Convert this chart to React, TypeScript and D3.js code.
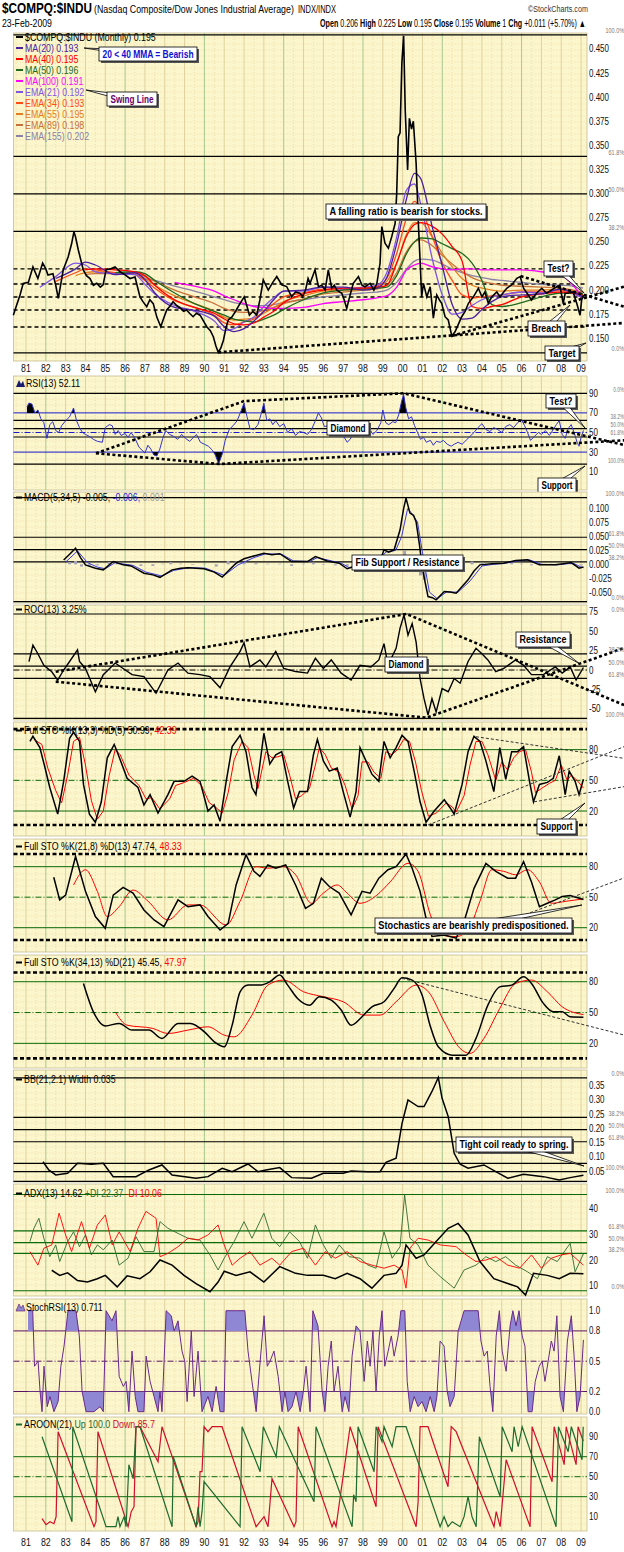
import React from "react";
import * as d3 from "d3";

type Pt = [number, number];

const FONT = "'Liberation Sans',Arial,sans-serif";
const SX = 0.84;
const W = 624, H = 1552;
const X0 = 13.5, X1 = 587;

// ---------- time axis ----------
const yearTicks = d3.range(1981, 2010);
const yearLabels = yearTicks.map((y) => String(y % 100).padStart(2, "0"));
const x = d3.scaleLinear().domain([1980.37, 2009.3]).range([X0, X1]);

// ---------- main panel: $COMPQ:$INDU ratio (monthly) ----------
const price: Pt[] = [
  [1980.36,0.174],[1980.53,0.1845],[1980.7,0.195],[1980.86,0.207],[1981.12,0.208],[1981.35,0.224],[1981.6,0.212],[1981.84,0.228],[1982.0,0.222],[1982.11,0.2157],[1982.36,0.217],[1982.5,0.205],[1982.63,0.1915],[1982.88,0.221],[1983.13,0.2346],[1983.3,0.248],[1983.42,0.2606],[1983.5,0.255],[1983.64,0.2416],[1983.89,0.221],[1984.05,0.215],[1984.23,0.212],[1984.4,0.205],[1984.57,0.207],[1984.75,0.203],[1984.89,0.2055],[1985.04,0.221],[1985.25,0.222],[1985.49,0.224],[1985.75,0.219],[1986.0,0.2157],[1986.25,0.212],[1986.5,0.2135],[1986.75,0.193],[1986.9,0.188],[1987.09,0.1828],[1987.25,0.19],[1987.42,0.186],[1987.6,0.172],[1987.8,0.162],[1987.95,0.171],[1988.1,0.1794],[1988.25,0.183],[1988.42,0.188],[1988.6,0.184],[1988.77,0.1817],[1988.95,0.178],[1989.1,0.1794],[1989.25,0.176],[1989.43,0.1724],[1989.6,0.176],[1989.78,0.174],[1989.95,0.168],[1990.12,0.162],[1990.3,0.158],[1990.45,0.1517],[1990.58,0.142],[1990.7,0.1355],[1990.83,0.14],[1990.96,0.148],[1991.08,0.16],[1991.2,0.169],[1991.38,0.172],[1991.55,0.1773],[1991.8,0.1863],[1992.01,0.193],[1992.15,0.183],[1992.27,0.174],[1992.45,0.178],[1992.64,0.174],[1992.8,0.19],[1992.97,0.2105],[1993.1,0.205],[1993.22,0.2],[1993.45,0.208],[1993.65,0.214],[1993.9,0.2055],[1994.15,0.2037],[1994.4,0.193],[1994.6,0.198],[1994.82,0.1967],[1994.95,0.193],[1995.1,0.2],[1995.23,0.212],[1995.33,0.207],[1995.58,0.221],[1995.75,0.2035],[1995.92,0.205],[1996.09,0.2],[1996.25,0.221],[1996.42,0.2019],[1996.55,0.205],[1996.68,0.2],[1996.93,0.1967],[1997.05,0.19],[1997.18,0.181],[1997.35,0.195],[1997.51,0.207],[1997.77,0.214],[1997.95,0.205],[1998.1,0.2035],[1998.36,0.207],[1998.55,0.2],[1998.7,0.207],[1998.86,0.2278],[1998.95,0.2658],[1999.11,0.2485],[1999.28,0.2434],[1999.45,0.2554],[1999.62,0.269],[1999.7,0.3],[1999.78,0.359],[1999.87,0.363],[1999.96,0.435],[2000.05,0.4636],[2000.13,0.3868],[2000.25,0.3246],[2000.34,0.378],[2000.45,0.367],[2000.54,0.375],[2000.68,0.3315],[2000.8,0.2658],[2000.88,0.231],[2000.96,0.193],[2001.05,0.207],[2001.22,0.193],[2001.39,0.2035],[2001.55,0.171],[2001.72,0.195],[2001.85,0.19],[2001.97,0.1863],[2002.14,0.1724],[2002.3,0.169],[2002.48,0.1525],[2002.65,0.157],[2002.82,0.165],[2002.98,0.1724],[2003.15,0.178],[2003.32,0.1863],[2003.57,0.193],[2003.82,0.2019],[2004.0,0.193],[2004.15,0.198],[2004.32,0.1863],[2004.5,0.193],[2004.75,0.198],[2004.92,0.193],[2005.1,0.198],[2005.25,0.2019],[2005.5,0.2053],[2005.76,0.2122],[2005.93,0.214],[2006.1,0.2019],[2006.3,0.196],[2006.5,0.1897],[2006.75,0.1967],[2007.02,0.2019],[2007.26,0.1967],[2007.5,0.2],[2007.77,0.2035],[2007.93,0.205],[2008.1,0.1863],[2008.2,0.1967],[2008.35,0.1967],[2008.6,0.198],[2008.8,0.185],[2008.95,0.174],[2009.03,0.1897],[2009.12,0.195],
];

const maDates = [1981.7,1982.5,1983.5,1984.0,1984.5,1985.5,1986.5,1987.0,1987.5,1988.5,1989.5,1990.5,1991.0,1991.5,1992.0,1992.5,1993.0,1993.5,1994.0,1995.0,1996.0,1997.0,1998.0,1998.7,1999.2,1999.7,2000.2,2000.6,2000.9,2001.5,2002.0,2002.5,2003.0,2003.5,2004.0,2004.5,2005.0,2006.0,2007.0,2008.0,2008.6,2009.1];
const ma20 = [null,0.212,0.222,0.229,0.226,0.216,0.218,0.211,0.197,0.182,0.179,0.173,0.162,0.157,0.160,0.168,0.178,0.190,0.199,0.200,0.203,0.203,0.200,0.202,0.213,0.248,0.295,0.321,0.316,0.265,0.225,0.185,0.170,0.171,0.180,0.188,0.193,0.195,0.196,0.201,0.198,0.193];
const ma40 = [null,null,null,0.221,0.222,0.221,0.219,0.215,0.205,0.19,0.182,0.176,0.17,0.165,0.164,0.166,0.172,0.178,0.187,0.196,0.200,0.202,0.202,0.203,0.205,0.228,0.256,0.268,0.27,0.266,0.258,0.245,0.23,0.183,0.181,0.183,0.185,0.193,0.196,0.198,0.197,0.195];
const ma50 = [null,null,null,null,null,0.218,0.219,0.217,0.21,0.197,0.186,0.178,0.174,0.17,0.168,0.167,0.170,0.174,0.18,0.19,0.197,0.2,0.201,0.202,0.203,0.215,0.238,0.25,0.254,0.253,0.248,0.243,0.238,0.228,0.21,0.185,0.183,0.187,0.193,0.197,0.197,0.196];
const ma100 = [null,null,null,null,null,null,null,null,null,0.208,0.204,0.199,0.194,0.19,0.186,0.183,0.182,0.181,0.181,0.182,0.186,0.188,0.19,0.192,0.194,0.203,0.221,0.226,0.228,0.224,0.222,0.221,0.222,0.222,0.221,0.221,0.221,0.221,0.219,0.215,0.205,0.191];
const ema21 = [0.203,0.214,0.228,0.226,0.219,0.217,0.216,0.206,0.196,0.184,0.178,0.168,0.158,0.160,0.167,0.172,0.183,0.192,0.199,0.199,0.203,0.201,0.203,0.205,0.218,0.255,0.304,0.31,0.29,0.232,0.195,0.175,0.177,0.184,0.19,0.193,0.195,0.198,0.197,0.201,0.196,0.192];
const ema34 = [null,0.209,0.218,0.222,0.221,0.218,0.216,0.21,0.202,0.189,0.182,0.174,0.166,0.164,0.167,0.17,0.178,0.186,0.193,0.197,0.201,0.201,0.202,0.204,0.212,0.238,0.275,0.292,0.285,0.255,0.228,0.21,0.195,0.192,0.193,0.194,0.195,0.198,0.198,0.2,0.197,0.193];
const ema55 = [null,null,0.215,0.218,0.219,0.218,0.217,0.212,0.205,0.194,0.186,0.178,0.172,0.169,0.17,0.171,0.176,0.182,0.188,0.194,0.199,0.2,0.201,0.203,0.209,0.228,0.258,0.27,0.27,0.255,0.238,0.224,0.212,0.205,0.202,0.2,0.199,0.2,0.2,0.201,0.199,0.195];
const ema89 = [null,null,null,0.216,0.217,0.217,0.217,0.214,0.209,0.2,0.193,0.186,0.181,0.178,0.177,0.177,0.179,0.182,0.186,0.191,0.196,0.198,0.2,0.201,0.205,0.218,0.24,0.25,0.252,0.246,0.236,0.227,0.219,0.213,0.209,0.207,0.205,0.204,0.203,0.202,0.2,0.198];
const ema155 = [null,null,null,null,null,null,null,0.212,0.21,0.204,0.199,0.193,0.19,0.187,0.185,0.184,0.184,0.185,0.187,0.19,0.193,0.195,0.197,0.198,0.2,0.208,0.222,0.23,0.232,0.231,0.227,0.222,0.218,0.215,0.213,0.211,0.21,0.208,0.206,0.205,0.204,0.202];

const maSeries = [
  { name: "MA(20)", last: "0.193", color: "#4b1fa0", vals: ma20 },
  { name: "MA(40)", last: "0.195", color: "#ff0000", vals: ma40 },
  { name: "MA(50)", last: "0.196", color: "#1f6a1f", vals: ma50 },
  { name: "MA(100)", last: "0.191", color: "#ff00ff", vals: ma100 },
  { name: "EMA(21)", last: "0.192", color: "#7f55e6", vals: ema21 },
  { name: "EMA(34)", last: "0.193", color: "#ff4a1a", vals: ema34 },
  { name: "EMA(55)", last: "0.195", color: "#e37d1e", vals: ema55 },
  { name: "EMA(89)", last: "0.198", color: "#c8703a", vals: ema89 },
  { name: "EMA(155)", last: "0.202", color: "#8a80a8", vals: ema155 },
];

const mainTicks = [0.15,0.175,0.2,0.225,0.25,0.275,0.3,0.325,0.35,0.375,0.4,0.425,0.45];
const mainFib = [[0.4646,"100.0%"],[0.3387,"61.8%"],[0.2998,"50.0%"],[0.2609,"38.2%"],[0.135,"0.0%"]] as [number,string][];
const mainDashed = [0.222,0.2063,0.1928,0.1794,0.1617];
const mainTrend: [Pt, Pt][] = [
  [[1990.7,0.1355],[2011.17,0.1659]],
  [[2002.48,0.1525],[2011.17,0.2035]],
  [[2005.95,0.2145],[2011.17,0.1828]],
];

// ---------- RSI(13) ----------
const rsi: Pt[] = [
  [1981.05,76],[1981.15,80],[1981.3,79],[1981.45,70],[1981.6,73],[1981.75,64],[1981.9,60],[1982.06,44],[1982.2,58],[1982.35,61],[1982.5,52],[1982.65,50],[1982.8,57],[1983.0,62],[1983.2,66],[1983.4,75],[1983.55,62],[1983.7,55],[1983.85,50],[1984.0,48],[1984.2,46],[1984.4,43],[1984.6,41],[1984.85,40],[1985.0,55],[1985.2,58],[1985.35,57],[1985.5,48],[1985.65,52],[1985.8,47],[1986.0,49],[1986.15,45],[1986.3,50],[1986.5,44],[1986.7,35],[1986.85,32],[1987.0,29],[1987.15,37],[1987.3,33],[1987.45,27],[1987.6,26],[1987.75,33],[1987.9,44],[1988.05,52],[1988.25,48],[1988.45,46],[1988.65,43],[1988.85,48],[1989.05,44],[1989.25,41],[1989.45,45],[1989.6,48],[1989.8,40],[1990.0,38],[1990.2,36],[1990.4,32],[1990.55,27],[1990.72,18],[1990.9,28],[1991.05,42],[1991.25,53],[1991.45,57],[1991.65,62],[1991.85,72],[1992.0,80],[1992.15,66],[1992.3,54],[1992.5,53],[1992.7,58],[1992.85,68],[1993.0,80],[1993.15,62],[1993.3,64],[1993.45,58],[1993.6,62],[1993.8,56],[1994.0,59],[1994.2,50],[1994.4,54],[1994.6,47],[1994.8,51],[1995.0,50],[1995.2,48],[1995.4,53],[1995.6,62],[1995.75,70],[1995.9,65],[1996.05,56],[1996.25,57],[1996.45,48],[1996.6,50],[1996.8,55],[1997.0,47],[1997.2,40],[1997.35,43],[1997.55,50],[1997.7,53],[1997.9,55],[1998.1,51],[1998.3,55],[1998.5,48],[1998.7,52],[1998.9,60],[1999.0,73],[1999.15,60],[1999.3,58],[1999.5,61],[1999.65,60],[1999.8,68],[1999.95,82],[2000.05,89],[2000.15,76],[2000.3,64],[2000.45,66],[2000.6,57],[2000.75,50],[2000.9,43],[2001.05,45],[2001.2,40],[2001.4,42],[2001.55,37],[2001.7,41],[2001.9,40],[2002.05,42],[2002.25,38],[2002.45,36],[2002.6,38],[2002.8,40],[2003.0,38],[2003.2,42],[2003.4,46],[2003.6,50],[2003.8,55],[2004.0,59],[2004.2,53],[2004.4,51],[2004.6,55],[2004.8,53],[2005.0,50],[2005.2,56],[2005.4,58],[2005.6,55],[2005.8,60],[2006.0,63],[2006.15,57],[2006.3,50],[2006.45,42],[2006.65,46],[2006.85,50],[2007.0,48],[2007.2,52],[2007.4,47],[2007.6,53],[2007.75,58],[2007.9,62],[2008.05,48],[2008.2,44],[2008.35,54],[2008.5,58],[2008.65,50],[2008.8,40],[2008.9,36],[2009.0,45],[2009.12,52.1],
];
const rsiTicks = [90,70,50,30,10];
const rsiFib = [[90,"0.0%"],[62.4,"38.2%"],[53.9,"50.0%"],[45.4,"61.8%"],[17.8,"100.0%"]] as [number,string][];
const rsiDiamond: Pt[][] = [
  [[1984.53,28.8],[1992.0,82],[2000.05,90],[2011.17,37.2]],
  [[1984.53,28.8],[1990.75,17.8],[2011.17,42]],
];

// ---------- MACD(5,34,5) ----------
const macd: Pt[] = [
  [1982.9,0.0077],[1983.2,0.018],[1983.5,0.0287],[1983.75,0.012],[1984.0,-0.001],[1984.5,-0.007],[1984.9,-0.01],[1985.4,0.005],[1985.9,-0.001],[1986.3,-0.003],[1986.95,-0.016],[1987.4,-0.019],[1987.76,-0.0234],[1988.37,-0.01],[1988.8,-0.007],[1989.17,-0.006],[1989.98,-0.008],[1990.5,-0.014],[1990.9,-0.023],[1991.2,-0.012],[1991.6,0.002],[1992.0,0.01],[1992.4,0.014],[1993.0,0.02],[1993.4,0.017],[1993.8,0.019],[1994.4,0.005],[1995.2,0.005],[1995.6,0.014],[1996.2,0.006],[1996.8,0.002],[1997.2,-0.008],[1997.85,-0.001],[1998.5,-0.001],[1998.9,0.01],[1999.06,0.026],[1999.3,0.022],[1999.57,0.026],[1999.87,0.062],[2000.05,0.1],[2000.17,0.119],[2000.37,0.092],[2000.55,0.088],[2000.68,0.076],[2000.85,0.035],[2000.98,-0.004],[2001.15,-0.035],[2001.28,-0.058],[2001.5,-0.06],[2001.69,-0.064],[2002.1,-0.049],[2002.4,-0.05],[2002.7,-0.052],[2003.0,-0.04],[2003.3,-0.028],[2003.6,-0.012],[2003.9,-0.001],[2004.5,0.001],[2005.1,0.002],[2005.7,0.007],[2006.3,0.008],[2006.9,-0.001],[2007.7,-0.001],[2008.1,0.001],[2008.5,0.003],[2008.9,-0.007],[2009.12,-0.005],
];
const macdSignal: Pt[] = [
  [1983.0,0.004],[1983.6,0.024],[1984.1,0.003],[1984.6,-0.005],[1985.0,-0.008],[1985.5,0.003],[1986.0,0.0],[1986.4,-0.002],[1987.05,-0.014],[1987.85,-0.021],[1988.45,-0.011],[1989.25,-0.006],[1990.05,-0.007],[1991.0,-0.02],[1991.7,-0.001],[1992.5,0.012],[1993.1,0.019],[1993.9,0.018],[1994.5,0.006],[1995.3,0.005],[1995.7,0.012],[1996.3,0.007],[1996.9,0.002],[1997.3,-0.006],[1997.95,-0.001],[1998.6,-0.001],[1999.15,0.022],[1999.65,0.025],[1999.95,0.05],[2000.25,0.1],[2000.45,0.092],[2000.75,0.076],[2001.05,0.01],[2001.35,-0.05],[2001.75,-0.062],[2002.2,-0.05],[2002.8,-0.05],[2003.4,-0.03],[2004.0,-0.003],[2004.6,0.0],[2005.2,0.002],[2005.8,0.006],[2006.4,0.008],[2007.0,0.0],[2007.8,-0.001],[2008.6,0.002],[2009.0,-0.005],[2009.12,-0.006],
];
const macdHist: Pt[] = [
  [1983.2,0.004],[1983.5,0.006],[1983.8,-0.004],[1984.2,-0.003],[1984.6,-0.002],[1985.2,0.004],[1985.6,0.002],[1986.2,-0.001],[1986.8,-0.003],[1987.4,-0.003],[1987.9,0.001],[1988.3,0.004],[1988.8,0.001],[1989.4,-0.001],[1990.0,0.001],[1990.6,-0.004],[1991.2,0.006],[1991.6,0.005],[1992.0,0.004],[1992.6,0.002],[1993.2,0.001],[1993.8,0.001],[1994.4,-0.003],[1995.0,0.001],[1995.5,0.003],[1996.0,-0.001],[1996.6,-0.002],[1997.2,-0.003],[1997.8,0.002],[1998.4,0.001],[1998.9,0.006],[1999.3,0.003],[1999.7,0.008],[1999.9,0.015],[2000.1,0.025],[2000.3,-0.008],[2000.6,-0.005],[2000.9,-0.02],[2001.1,-0.028],[2001.4,-0.01],[2001.7,-0.002],[2002.0,0.003],[2002.5,-0.003],[2003.0,0.006],[2003.5,0.005],[2004.0,0.003],[2004.5,0.001],[2005.0,0.001],[2005.5,0.002],[2006.0,0.001],[2006.5,-0.002],[2007.0,-0.001],[2007.5,0.001],[2008.0,0.001],[2008.5,0.001],[2009.0,-0.002],
];
const macdTicks = [0.1,0.075,0.05,0.025,0,-0.025,-0.05];
const macdFib = [[0.12,"100.0%"],[0.0486,"61.8%"],[0.0265,"50.0%"],[0.0044,"38.2%"],[-0.067,"0.0%"]] as [number,string][];

// ---------- ROC(13) ----------
const roc: Pt[] = [
  [1981.15,10.8],[1981.35,32],[1981.6,21],[1981.9,6],[1982.3,-2.2],[1982.6,-13],[1982.9,0],[1983.2,11],[1983.6,26],[1983.7,11],[1984.0,2],[1984.5,-28],[1984.9,-6],[1985.5,9],[1985.9,2],[1986.35,-6],[1986.95,-8.6],[1987.56,-30],[1988.16,0],[1988.67,9],[1989.17,-4],[1989.78,-6],[1990.28,-8.6],[1990.79,-23],[1991.29,4],[1991.8,24],[1992.0,35],[1992.3,4],[1992.8,13],[1993.1,4],[1993.6,24],[1994.0,2],[1994.6,-2],[1995.2,-4],[1995.6,15],[1996.0,2],[1996.4,13],[1996.9,-4],[1997.4,-13],[1997.85,6],[1998.4,4],[1998.8,13],[1999.06,34],[1999.26,6],[1999.67,28],[1999.87,54],[2000.07,71],[2000.27,45],[2000.48,60],[2000.68,36],[2000.88,-11],[2001.08,-37],[2001.28,-58],[2001.48,-37],[2001.69,-54],[2001.99,-24],[2002.3,-28],[2002.6,-11],[2002.9,-17],[2003.3,11],[2003.7,28],[2004.0,21],[2004.3,13],[2004.7,-2],[2005.1,2],[2005.7,13],[2006.1,6],[2006.5,-6],[2007.1,-6],[2007.7,4],[2008.05,-4],[2008.45,4],[2008.75,-13],[2009.12,3.25],
];
const rocTicks = [75,50,25,0,-25,-50];
const rocFib = [[72.3,"0.0%"],[20.9,"38.2%"],[5.0,"50.0%"],[-10.9,"61.8%"],[-62.3,"100.0%"]] as [number,string][];
const rocDiamond: Pt[][] = [
  [[1982.5,-2.2],[2000.2,72.3],[2011.17,-45.2]],
  [[1982.5,-15],[2001.2,-61.5],[2011.17,28.4]],
];

// ---------- Full STO %K(13,3) %D(5) ----------
const sto1K: Pt[] = [
  [1981.2,88],[1981.35,93],[1981.7,82],[1981.95,63],[1982.2,43],[1982.6,17],[1982.9,49],[1983.2,91],[1983.4,97],[1983.7,88],[1983.9,46],[1984.2,17],[1984.5,9],[1984.8,29],[1985.1,72],[1985.45,85],[1985.6,78],[1986.1,52],[1986.65,43],[1986.95,26],[1987.26,36],[1987.66,18],[1988.16,36],[1988.47,49],[1988.97,49],[1989.38,54],[1989.78,49],[1990.18,20],[1990.49,26],[1990.79,10],[1991.1,49],[1991.4,83],[1991.8,94],[1992.1,78],[1992.4,43],[1992.6,36],[1993.0,96],[1993.3,66],[1993.6,75],[1993.9,78],[1994.2,49],[1994.5,23],[1994.8,39],[1995.2,39],[1995.5,75],[1995.7,90],[1996.0,69],[1996.3,59],[1996.7,62],[1997.0,39],[1997.35,14],[1997.65,39],[1997.85,82],[1998.15,69],[1998.45,56],[1998.8,49],[1999.06,88],[1999.37,72],[1999.67,82],[1999.97,94],[2000.27,88],[2000.58,59],[2000.88,29],[2001.18,9],[2001.59,20],[2002.1,31],[2002.4,23],[2002.6,17],[2003.0,46],[2003.3,78],[2003.6,93],[2003.9,88],[2004.2,69],[2004.6,39],[2004.9,82],[2005.2,51],[2005.5,78],[2005.8,78],[2006.1,83],[2006.4,49],[2006.6,29],[2006.9,46],[2007.3,48],[2007.6,52],[2007.9,74],[2008.2,36],[2008.4,59],[2008.7,49],[2008.9,36],[2009.12,51],
];
const sto1D: Pt[] = [
  [1981.4,90],[1981.8,85],[1982.1,62],[1982.5,40],[1982.8,28],[1983.1,55],[1983.4,88],[1983.7,92],[1984.0,65],[1984.3,30],[1984.6,12],[1984.9,20],[1985.2,55],[1985.5,80],[1985.75,75],[1986.2,55],[1986.7,45],[1987.05,32],[1987.35,33],[1987.75,22],[1988.25,32],[1988.55,45],[1989.0,48],[1989.45,52],[1989.85,45],[1990.25,28],[1990.55,24],[1990.9,18],[1991.2,38],[1991.5,70],[1991.9,88],[1992.2,82],[1992.5,55],[1992.7,42],[1993.1,78],[1993.4,72],[1993.7,73],[1994.0,75],[1994.3,55],[1994.6,32],[1994.9,35],[1995.3,42],[1995.6,65],[1995.8,82],[1996.1,75],[1996.4,62],[1996.8,58],[1997.1,45],[1997.45,22],[1997.75,35],[1997.95,68],[1998.25,68],[1998.55,58],[1998.9,52],[1999.15,78],[1999.45,75],[1999.75,80],[2000.05,90],[2000.35,88],[2000.65,68],[2000.95,40],[2001.3,15],[2001.7,18],[2002.2,28],[2002.5,24],[2002.7,19],[2003.1,35],[2003.4,65],[2003.7,88],[2004.0,88],[2004.3,75],[2004.7,50],[2005.0,68],[2005.3,60],[2005.6,72],[2005.9,78],[2006.2,80],[2006.5,58],[2006.7,38],[2007.0,42],[2007.4,47],[2007.7,50],[2008.0,65],[2008.3,50],[2008.5,55],[2008.8,50],[2009.12,42.4],
];
const sto1Trend: [Pt, Pt][] = [
  [[2003.7,92.6],[2011.17,71.5]],
  [[2001.28,6.3],[2011.17,82.9]],
  [[2006.63,29],[2011.17,43.8]],
];

// ---------- Full STO %K(21,8) %D(13) ----------
const sto2K: Pt[] = [
  [1982.4,69.6],[1982.7,47.3],[1983.0,52],[1983.5,90],[1984.0,55.7],[1984.5,31],[1985.0,19.4],[1985.4,52],[1985.9,59.7],[1986.4,54],[1986.95,37.4],[1987.46,27.6],[1987.96,21],[1988.67,47.3],[1989.17,40.7],[1989.78,42.4],[1990.18,31],[1990.79,17.7],[1991.2,24.3],[1991.6,62],[1992.1,91.6],[1992.5,75.4],[1992.8,70.4],[1993.2,81.7],[1993.6,78.5],[1994.1,81.7],[1994.6,62],[1995.1,39],[1995.5,44],[1995.9,68.7],[1996.3,60.5],[1996.8,54],[1997.4,32.6],[1997.95,55.7],[1998.36,54],[1998.8,68.7],[1999.26,77],[1999.67,80],[2000.17,92.5],[2000.48,78.5],[2000.88,55.7],[2001.18,29.3],[2001.48,11.3],[2002.1,12.9],[2002.7,9.7],[2003.1,26],[2003.6,58.7],[2004.2,83.3],[2004.7,75.4],[2005.3,68.7],[2005.7,68.7],[2006.1,85],[2006.5,65],[2006.9,40.7],[2007.3,44],[2007.7,47.3],[2008.05,50.6],[2008.45,51.6],[2009.12,47.7],
];
const sto2D: Pt[] = [
  [1983.4,62],[1984.0,77],[1984.6,55.7],[1985.1,31],[1985.7,40.7],[1986.4,57],[1987.16,46],[1988.16,27.6],[1989.17,42.4],[1989.78,42.4],[1991.1,22.6],[1991.8,46],[1992.6,80],[1993.2,78.5],[1994.0,80],[1994.6,72],[1995.4,44],[1996.0,54],[1996.7,62],[1997.2,54],[1997.85,44],[1998.7,52],[1999.37,65],[2000.27,83.3],[2000.78,75.4],[2001.4,32.6],[2001.9,12.9],[2002.7,11.3],[2003.3,17.7],[2003.9,46],[2004.5,77],[2005.1,75.4],[2005.7,72],[2006.3,77],[2006.9,65],[2007.5,44],[2008.25,46],[2009.12,48.3],
];
const sto2Trend: [Pt, Pt][] = [[[2005.72,29.5],[2011.17,68.9]]];

// ---------- Full STO %K(34,13) %D(21) ----------
const sto3K: Pt[] = [
  [1983.9,78.3],[1984.4,50.7],[1985.0,37],[1985.7,39.4],[1986.35,32.9],[1987.2,32.9],[1987.86,24.8],[1988.67,39.4],[1989.3,39.4],[1990.0,31.2],[1990.5,21.5],[1991.0,16.6],[1991.4,37.7],[1991.8,70.2],[1992.2,76.7],[1992.8,76.7],[1993.3,80],[1993.8,86.5],[1994.2,76.7],[1994.7,63.7],[1995.3,57.2],[1995.8,65.4],[1996.4,62.1],[1996.9,52.4],[1997.4,37.7],[1997.95,45.9],[1998.45,55.6],[1999.06,60.5],[1999.57,73.5],[1999.97,83.8],[2000.48,81.6],[2000.98,67],[2001.38,37.7],[2001.8,16.6],[2002.5,8.5],[2003.2,8.5],[2003.7,24.8],[2004.3,57.2],[2004.9,75],[2005.5,76.7],[2006.1,84.8],[2006.5,78.3],[2007.1,58.9],[2007.6,50.7],[2008.05,50.7],[2008.45,45.9],[2009.12,45.5],
];
const sto3D: Pt[] = [
  [1985.5,50.7],[1986.1,37.7],[1987.4,34.5],[1988.16,29.6],[1989.17,32.9],[1990.18,36.1],[1991.0,28],[1991.5,26.3],[1992.4,47.5],[1993.2,76.7],[1994.0,81.6],[1995.0,70.2],[1996.0,65.4],[1997.0,60.5],[1998.05,47.5],[1998.86,47.5],[1999.67,60.5],[2000.68,76.7],[2001.3,70.2],[2002.1,41],[2002.9,15],[2003.4,10.2],[2004.1,24.8],[2004.9,54],[2005.7,78.3],[2006.5,81.6],[2007.3,70.2],[2008.05,55.6],[2009.12,48],
];
const sto3Trend: [Pt, Pt][] = [[[1999.97,83.3],[2011.17,28.1]]];

// ---------- BB(21,2.1) Width ----------
const bbWidth: Pt[] = [
  [1981.86,0.0827],[1982.15,0.0537],[1982.5,0.0361],[1983.1,0.042],[1983.6,0.077],[1984.3,0.0737],[1984.9,0.077],[1985.4,0.0302],[1986.55,0.0302],[1987.2,0.0537],[1987.86,0.0713],[1988.37,0.0361],[1989.58,0.0244],[1990.18,0.0302],[1990.9,0.0596],[1991.4,0.0478],[1992.2,0.0748],[1992.7,0.0478],[1993.1,0.0537],[1993.8,0.062],[1994.4,0.0267],[1995.4,0.0244],[1996.0,0.042],[1997.0,0.042],[1997.4,0.05],[1998.25,0.0478],[1998.86,0.0478],[1999.16,0.0807],[1999.67,0.0948],[1999.97,0.218],[2000.27,0.3],[2000.78,0.277],[2001.08,0.277],[2001.48,0.33],[2001.8,0.379],[2001.99,0.306],[2002.3,0.2415],[2002.6,0.1125],[2002.9,0.0737],[2003.3,0.0596],[2004.1,0.0713],[2004.7,0.0478],[2005.3,0.0244],[2006.1,0.0384],[2007.1,0.0302],[2007.9,0.0185],[2008.45,0.0267],[2009.12,0.035],
];
const bbTicks = [0.35,0.3,0.25,0.2,0.15,0.1,0.05];
const bbLines = [0.378,0.2387,0.1958,0.153,0.077,0.048,0.0136];
const bbFib = [[0.378,"0.0%"],[0.2387,"38.2%"],[0.1958,"50.0%"],[0.153,"61.8%"],[0.048,"100.0%"]] as [number,string][];

// ---------- ADX(13) ----------
const adx: Pt[] = [
  [1982.3,16],[1982.7,14],[1983.1,15],[1983.6,12],[1984.1,11.4],[1984.6,12.7],[1985.0,14],[1985.6,9.5],[1986.1,13.8],[1986.75,12.7],[1987.26,15.4],[1987.76,20],[1988.37,18],[1988.97,14],[1989.58,10.8],[1990.28,7.6],[1990.69,11.4],[1991.0,15.6],[1991.6,14],[1992.3,15.4],[1993.0,11.4],[1993.8,17.4],[1994.6,14.8],[1995.2,14],[1996.0,14],[1996.6,12.7],[1997.2,14.8],[1997.85,12.7],[1998.45,9],[1999.06,14],[1999.67,14.8],[1999.97,18],[2000.17,25.9],[2000.68,20.7],[2001.08,22],[2001.69,27.2],[2002.3,32.4],[2002.8,34.3],[2003.3,29.8],[2003.9,19.4],[2004.6,12.7],[2005.3,10.8],[2005.8,9.5],[2006.2,6.3],[2006.6,14.8],[2007.3,14],[2007.9,12.7],[2008.45,14.8],[2009.12,14.6],
];
const plusDI: Pt[] = [
  [1981.2,27.2],[1981.4,32.4],[1981.65,36.3],[1981.9,28.5],[1982.2,21.3],[1982.5,25.9],[1982.7,19.4],[1983.1,27.2],[1983.4,31],[1983.7,25.2],[1984.0,29.8],[1984.3,22],[1984.6,25.9],[1984.9,24],[1985.35,27.8],[1985.7,18],[1986.15,20.7],[1986.55,29.1],[1986.95,23.3],[1987.46,23.3],[1987.76,35],[1988.16,32.4],[1988.67,30.4],[1989.17,28.5],[1989.78,27.8],[1990.28,22],[1990.69,16.1],[1991.0,20.7],[1991.5,27.2],[1992.0,35],[1992.4,28.5],[1993.0,38.3],[1993.4,28.5],[1993.8,25.2],[1994.3,31],[1994.8,27.2],[1995.2,20.7],[1995.6,33.7],[1996.0,25.9],[1996.4,20.7],[1996.8,25.9],[1997.3,21.3],[1997.85,20.7],[1998.25,18],[1998.66,16.8],[1999.06,31],[1999.47,20.7],[1999.87,25.2],[2000.1,45.5],[2000.37,28.5],[2000.78,25.9],[2001.28,18],[2001.9,13.5],[2002.6,9],[2003.1,16.1],[2003.7,18],[2004.2,21.3],[2004.7,19.4],[2005.2,21.3],[2005.7,18],[2006.3,15.4],[2006.8,12.7],[2007.3,21.3],[2007.8,19.4],[2008.45,26.5],[2008.7,15.4],[2009.12,22.4],
];
const minusDI: Pt[] = [
  [1981.2,23.3],[1981.6,18],[1981.9,24.6],[1982.3,25.9],[1982.67,38.3],[1983.0,29.8],[1983.3,23.3],[1983.8,35],[1984.2,24.6],[1984.6,33.7],[1985.0,37.6],[1985.35,25.9],[1985.7,31],[1986.25,23.3],[1986.65,32.4],[1987.05,39],[1987.56,36.3],[1987.76,21.3],[1988.16,22.6],[1988.67,25.2],[1989.17,28.5],[1989.68,27.8],[1990.18,29.8],[1990.69,33.7],[1991.0,25.9],[1991.4,18],[1991.8,20.7],[1992.3,23.3],[1992.8,18],[1993.4,20.7],[1993.8,18],[1994.4,23.3],[1995.0,24.6],[1995.6,18],[1996.1,23.3],[1996.6,20.7],[1997.2,23.3],[1997.85,19.4],[1998.45,18],[1999.06,16.8],[1999.57,18],[1999.97,16.1],[2000.17,9],[2000.37,24.6],[2000.78,28.5],[2001.28,27.8],[2001.9,25.9],[2002.7,25.2],[2003.2,22],[2003.7,19.4],[2004.2,20],[2004.7,21.3],[2005.3,18],[2005.9,16.8],[2006.5,22],[2007.0,16.8],[2007.5,20.7],[2008.0,22],[2008.45,22.6],[2009.12,18],
];
const adxTicks = [40,30,20,10];
const adxFib = [[45.6,"100.0%"],[31.4,"61.8%"],[26.8,"50.0%"],[22.6,"38.2%"],[8,"0.0%"]] as [number,string][];

// ---------- StochRSI(13) ----------
const stochRsi: Pt[] = [
  [1981.1,1],[1981.34,1],[1981.43,0.45],[1981.61,0.5],[1981.71,0.2],[1981.81,0],[1981.91,0.45],[1982.07,0.05],[1982.21,0.15],[1982.41,0],[1982.62,0.1],[1982.76,0.45],[1982.92,0.65],[1983.12,1],[1983.52,1],[1983.69,0.75],[1983.83,0.2],[1984.03,0],[1984.43,0],[1984.74,0.05],[1984.9,0],[1985.04,1],[1985.34,0.9],[1985.54,1],[1985.7,0.35],[1985.91,0.25],[1986.05,0.3],[1986.19,0],[1986.35,0.6],[1986.51,0.15],[1986.65,0],[1986.95,0],[1987.06,0.55],[1987.26,0.3],[1987.46,0.15],[1987.66,0],[1987.76,0.2],[1987.86,0],[1988.07,1],[1988.33,0.95],[1988.47,0.8],[1988.67,0.9],[1988.87,0.6],[1989.01,0.5],[1989.13,0.1],[1989.34,0.8],[1989.48,0.15],[1989.68,0.6],[1989.88,0],[1990.18,0.15],[1990.39,0],[1990.59,0.25],[1990.79,0],[1990.99,0],[1991.09,1],[1991.6,1],[1992.04,1],[1992.2,0.6],[1992.4,0.3],[1992.61,0],[1992.77,0.4],[1993.01,0.95],[1993.17,0.45],[1993.31,0.5],[1993.51,0.6],[1993.72,0.35],[1993.92,0],[1994.06,0.2],[1994.22,0],[1994.42,0.05],[1994.62,0.2],[1994.83,0],[1994.99,0.2],[1995.13,0.45],[1995.33,0],[1995.47,1],[1995.73,0.85],[1995.94,0.2],[1996.08,0],[1996.24,0.45],[1996.4,0.7],[1996.54,0.2],[1996.74,0.45],[1996.95,0],[1997.09,0.15],[1997.29,0],[1997.45,0.55],[1997.65,0.85],[1997.85,0.8],[1998.06,0.3],[1998.22,0.7],[1998.36,0.45],[1998.5,0.8],[1998.66,0.2],[1998.82,0.75],[1998.96,1],[1999.1,0.45],[1999.27,0.6],[1999.43,0.75],[1999.57,0.55],[1999.77,0.75],[1999.91,1],[2000.11,1],[2000.23,0.3],[2000.38,0],[2000.58,0.15],[2000.78,0.05],[2000.98,0.1],[2001.18,0],[2001.39,0.15],[2001.59,0],[2001.73,0.15],[2001.89,0.7],[2002.09,0.65],[2002.25,0.2],[2002.39,0.05],[2002.6,0.15],[2002.8,0.8],[2003.1,1],[2003.81,1],[2003.95,0.7],[2004.11,0.55],[2004.27,0.6],[2004.41,0.25],[2004.55,0],[2004.72,0.75],[2004.88,1],[2005.02,0.6],[2005.22,0.4],[2005.42,0.85],[2005.56,1],[2005.72,0.85],[2005.87,1],[2006.03,0.75],[2006.17,0.65],[2006.33,0],[2006.53,0],[2006.69,0.3],[2006.89,0.45],[2007.04,0.5],[2007.18,0.3],[2007.34,0.5],[2007.5,0.7],[2007.64,0.6],[2007.78,0.95],[2007.94,0.15],[2008.11,0],[2008.31,0.7],[2008.51,0.95],[2008.65,0.55],[2008.79,0],[2008.95,0.15],[2009.12,0.711],
];
const srsiTicks = [1.0,0.8,0.5,0.2,0.0];

// ---------- AROON(21) ----------
const aroonUp: Pt[] = [
  [1981.81,90],[1983.32,5],[1983.36,100],[1985.04,0],[1985.54,0],[1985.64,10],[1985.74,0],[1985.95,10],[1986.05,0],[1986.19,62],[1986.41,48],[1986.55,100],[1986.75,100],[1988.37,0],[1988.43,70],[1989.58,0],[1989.68,20],[1989.78,0],[1989.88,15],[1989.98,45],[1991.8,0],[1991.9,100],[1992.81,55],[1992.97,100],[1993.62,70],[1993.78,100],[1995.53,25],[1995.63,100],[1997.45,0],[1997.53,32],[1997.65,25],[1997.75,100],[1998.56,55],[1998.66,100],[1998.96,85],[1999.06,100],[1999.47,80],[1999.67,100],[2000.17,100],[2001.89,0],[2002.09,10],[2002.29,0],[2002.5,5],[2002.9,0],[2003.1,10],[2003.3,30],[2003.5,10],[2003.71,0],[2003.87,90],[2004.92,30],[2005.02,100],[2005.52,75],[2005.62,100],[2005.83,80],[2006.03,100],[2007.74,0],[2007.86,100],[2008.35,75],[2008.51,100],[2009.05,67],[2009.11,100],
];
const aroonDown: Pt[] = [
  [1981.81,8],[1982.01,2],[1982.21,5],[1982.41,3],[1982.52,10],[1982.62,95],[1984.43,0],[1984.53,5],[1984.63,95],[1986.15,0],[1986.31,15],[1986.45,20],[1986.55,100],[1986.75,100],[1987.66,65],[1987.86,100],[1989.58,0],[1989.68,5],[1989.78,55],[1989.88,55],[1989.98,100],[1990.18,95],[1990.39,100],[1990.89,100],[1992.61,0],[1992.81,5],[1993.01,10],[1993.21,0],[1993.41,48],[1994.52,0],[1994.62,5],[1994.73,100],[1996.44,0],[1996.54,5],[1996.64,0],[1997.35,100],[1998.66,20],[1998.76,100],[2000.68,0],[2000.78,25],[2000.88,100],[2001.28,100],[2002.29,40],[2002.45,100],[2002.7,95],[2004.61,0],[2004.72,15],[2004.92,0],[2005.22,67],[2006.43,0],[2006.53,100],[2007.54,45],[2007.64,100],[2008.15,62],[2008.25,100],[2008.75,62],[2008.85,100],[2009.11,85.7],
];
const aroonTicks = [90,70,50,30,10];

// ---------- scales ----------
const mainY = d3.scaleLinear().domain([0.1265, 0.4665]).range([361, 33]);
const rsiY = d3.scaleLinear().domain([-8.7, 107.65]).range([490, 376]);
const macdY = d3.scaleLinear().domain([-0.0696, 0.13]).range([603, 492]);
const rocY = d3.scaleLinear().domain([-64.5, 83.9]).range([720, 605]);
const sto1Y = d3.scaleLinear().domain([-4.4, 107]).range([836, 722]);
const sto2Y = d3.scaleLinear().domain([-3.9, 107.2]).range([952, 839]);
const sto3Y = d3.scaleLinear().domain([-4, 106]).range([1068, 955]);
const bbY = d3.scaleLinear().domain([0.0113, 0.4056]).range([1182, 1070]);
const adxY = d3.scaleLinear().domain([5.94, 49.7]).range([1296, 1184]);
const srsiY = d3.scaleLinear().domain([-0.023, 1.116]).range([1414, 1299]);
const aroonY = d3.scaleLinear().domain([-4.3, 109.7]).range([1531, 1417]);

type YS = d3.ScaleLinear<number, number>;

function path(data: Pt[], y: YS, curve: any = d3.curveLinear) {
  return d3.line<Pt>().x((d) => x(d[0])).y((d) => y(d[1])).curve(curve)(data) || "";
}
function maPath(vals: (number | null)[]) {
  const pts = maDates.map((d, i) => [d, vals[i]] as [number, number | null]);
  return (
    d3
      .line<[number, number | null]>()
      .defined((d) => d[1] != null)
      .x((d) => x(d[0]))
      .y((d) => mainY(d[1] as number))
      .curve(d3.curveMonotoneX)(pts) || ""
  );
}

const DASHDOT = "6,2,1,2";

// narrow text (Arial-Narrow-like) through a horizontal squeeze
function T({ x: tx, y: ty, children, size = 10, weight, fill = "#000", anchor, dy, sx = SX }: any) {
  return (
    <text
      transform={`translate(${tx},${ty}) scale(${sx},1)`}
      fontSize={size}
      fontWeight={weight}
      fill={fill}
      textAnchor={anchor}
      dy={dy}
      fontFamily={FONT}
    >
      {children}
    </text>
  );
}

// text squeezed to an exact width (measured after layout)
function FitText({ x: tx, y: ty, width, children, anchor = "start", size = 10, weight, fill = "#000", dy }: any) {
  const ref = React.useRef<SVGTextElement>(null);
  const [sx, setSx] = React.useState(0.84);
  React.useLayoutEffect(() => {
    const el = ref.current;
    if (el) {
      const len = el.getComputedTextLength();
      if (len > 0) setSx(width / len);
    }
  }, [width]);
  return (
    <text
      ref={ref}
      transform={`translate(${tx},${ty}) scale(${sx},1)`}
      textAnchor={anchor}
      fontSize={size}
      fontWeight={weight}
      fill={fill}
      dy={dy}
      fontFamily={FONT}
    >
      {children}
    </text>
  );
}

function PanelBg({ top, bottom }: { top: number; bottom: number }) {
  const hs = d3.range(top + 5, bottom - 1, 6);
  const halfs = d3.range(1980.5, 2009.3, 0.5).filter((v) => !Number.isInteger(v));
  return (
    <g>
      <rect x={X0} y={top} width={X1 - X0} height={bottom - top} fill="#fbf6cb" />
      {hs.map((h) => (
        <line key={"h" + h} x1={X0} x2={X1} y1={h} y2={h} stroke="#efd29c" strokeWidth={0.7} strokeDasharray="1,2" />
      ))}
      {halfs.map((v) => (
        <line key={"v" + v} x1={x(v)} x2={x(v)} y1={top} y2={bottom} stroke="#efd29c" strokeWidth={0.7} strokeDasharray="1,2" />
      ))}
      {yearTicks.map((yr) => (
        <line
          key={"y" + yr}
          x1={x(yr)}
          x2={x(yr)}
          y1={top}
          y2={bottom}
          stroke={(yr - 1982) % 4 === 0 ? "#a7c98c" : "#e0d19e"}
          strokeWidth={1}
        />
      ))}
      <rect x={X0} y={top} width={X1 - X0} height={bottom - top} fill="none" stroke="#c9bd92" strokeWidth={0.8} />
    </g>
  );
}

function HLine({ v, y, stroke = "#000", w = 1, dash }: { v: number; y: YS; stroke?: string; w?: number; dash?: string }) {
  return <line x1={X0} x2={X1} y1={y(v)} y2={y(v)} stroke={stroke} strokeWidth={w} strokeDasharray={dash} />;
}

function Ticks({ ticks, y, fmt }: { ticks: number[]; y: YS; fmt: (v: number) => string }) {
  return (
    <g>
      {ticks.map((t) => (
        <T key={t} x={589} y={y(t)} dy="0.35em" size={10} sx={0.8} fill="#111">
          {fmt(t)}
        </T>
      ))}
    </g>
  );
}

function FibLabels({ fib, y, size = 8 }: { fib: [number, string][]; y: YS; size?: number }) {
  return (
    <g>
      {fib.map(([v, s]) => (
        <T key={s} x={624} y={y(v) - 1.5} anchor="end" size={size} sx={0.68} fill="#7a7a7a">
          {s}
        </T>
      ))}
    </g>
  );
}

function Callout({ bx, by, w, h, text, tx, ty, color = "#000", size = 11 }: any) {
  const cx = bx + w / 2, cy = by + h / 2;
  let pointer = null;
  if (tx != null) {
    const dx = tx - cx, dy = ty - cy;
    const len = Math.hypot(dx, dy) || 1;
    const nx = (-dy / len) * 3.5, ny = (dx / len) * 3.5;
    const pts = `${cx + nx},${cy + ny} ${cx - nx},${cy - ny} ${tx},${ty}`;
    pointer = <polygon points={pts} fill="#fff" stroke="#000" strokeWidth={0.8} />;
  }
  return (
    <g>
      <rect x={bx + 2} y={by + 2} width={w} height={h} fill="#555" />
      {pointer}
      <rect x={bx} y={by} width={w} height={h} fill="#fff" stroke="#000" strokeWidth={0.8} />
      <FitText x={cx} y={cy} dy="0.36em" width={w - 7} anchor="middle" size={size} weight="bold" fill={color}>
        {text}
      </FitText>
    </g>
  );
}

function DotLine({ pts, y, w = 2.4, dash = "3,2.5", color = "#000" }: { pts: Pt[]; y: YS; w?: number; dash?: string; color?: string }) {
  return <path d={path(pts, y)} fill="none" stroke={color} strokeWidth={w} strokeDasharray={dash} />;
}

function YearLabels({ yPos }: { yPos: number }) {
  return (
    <g>
      {yearTicks.map((yr, i) => (
        <T key={yr} x={x(yr)} y={yPos} anchor="middle" size={10.5} fill="#111">
          {yearLabels[i]}
        </T>
      ))}
    </g>
  );
}

function Label({ y, children, dash = "#000" }: { y: number; children: any; dash?: string }) {
  return (
    <g>
      <line x1={16} x2={22} y1={y - 3.5} y2={y - 3.5} stroke={dash} strokeWidth={2} />
      <T x={24} y={y} size={10.5}>
        {children}
      </T>
    </g>
  );
}

function clipArea(data: Pt[], y: YS, level: number) {
  return (
    d3
      .area<Pt>()
      .x((d) => x(d[0]))
      .y0(y(level))
      .y1((d) => y(d[1]))(data) || ""
  );
}

export default function App() {
  const fmt3 = (v: number) => v.toFixed(3);
  const fmt2 = (v: number) => v.toFixed(2);
  const fmt1 = (v: number) => v.toFixed(1);
  const fmt0 = (v: number) => String(v);

  return (
    <svg
      width={W}
      height={H}
      viewBox={`0 0 ${W} ${H}`}
      style={{ position: "absolute", left: 0, top: 0, display: "block", background: "#fff" }}
    >
      <defs>
        <clipPath id="rsiHi"><rect x={X0} y={376} width={X1 - X0} height={rsiY(70) - 376} /></clipPath>
        <clipPath id="rsiLo"><rect x={X0} y={rsiY(30)} width={X1 - X0} height={490 - rsiY(30)} /></clipPath>
        <clipPath id="srHi"><rect x={X0} y={1299} width={X1 - X0} height={srsiY(0.8) - 1299} /></clipPath>
        <clipPath id="srLo"><rect x={X0} y={srsiY(0.2)} width={X1 - X0} height={1414 - srsiY(0.2)} /></clipPath>
      </defs>
      <rect x={0} y={0} width={W} height={H} fill="#fff" />

      {/* header */}
      <FitText x={2} y={13} width={90} size={14} weight="bold">$COMPQ:$INDU</FitText>
      <FitText x={94} y={13} width={200} size={10.5}>(Nasdaq Composite/Dow Jones Industrial Average)</FitText>
      <FitText x={298} y={13} width={38} size={10.5}>INDX/INDX</FitText>
      <FitText x={528} y={12} width={60} size={9.5} fill="#333">©StockCharts.com</FitText>
      <FitText x={2} y={27} width={50} size={10.5}>23-Feb-2009</FitText>
      <FitText x={320} y={27} width={266} size={10.5}>
        <tspan fontWeight="bold">Open</tspan> 0.206 <tspan fontWeight="bold">High</tspan> 0.225{" "}
        <tspan fontWeight="bold">Low</tspan> 0.195 <tspan fontWeight="bold">Close</tspan> 0.195{" "}
        <tspan fontWeight="bold">Volume</tspan> 1 <tspan fontWeight="bold">Chg</tspan> +0.011 (+5.70%) ▲
      </FitText>

      {/* ================= MAIN PANEL ================= */}
      <PanelBg top={33} bottom={361} />
      {mainFib.map(([v]) => <HLine key={"mf" + v} v={v} y={mainY} w={1.2} />)}
      {mainDashed.map((v) => <HLine key={"md" + v} v={v} y={mainY} w={1.4} dash="4,3" />)}
      {maSeries.slice().reverse().map((m) => (
        <path key={m.name} d={maPath(m.vals)} fill="none" stroke={m.color} strokeWidth={1.3} />
      ))}
      <path d={path(price, mainY)} fill="none" stroke="#000" strokeWidth={1.6} />
      {mainTrend.map((t, i) => <DotLine key={"mt" + i} pts={t} y={mainY} w={2.6} />)}
      <Ticks ticks={mainTicks} y={mainY} fmt={fmt3} />
      <FibLabels fib={mainFib} y={mainY} />
      {/* legend */}
      <g>
        <line x1={16} x2={23} y1={37} y2={37} stroke="#000" strokeWidth={2} />
        <T x={25} y={40.5} size={10.5}>$COMPQ:$INDU (Monthly) 0.195</T>
        {maSeries.map((m, i) => (
          <g key={"lg" + m.name}>
            <line x1={16} x2={23} y1={48 + i * 11} y2={48 + i * 11} stroke={m.color} strokeWidth={2} />
            <T x={25} y={51.5 + i * 11} size={10.5} fill={m.color}>{`${m.name} ${m.last}`}</T>
          </g>
        ))}
      </g>
      <Callout bx={99} by={47} w={98} h={14} text="20 < 40 MMA = Bearish" tx={84} ty={48} color="#1010d0" />
      <Callout bx={107} by={92} w={50} h={14} text="Swing Line" tx={86} ty={90} color="#66006a" />
      <Callout bx={326} by={204} w={160} h={15} text="A falling ratio is bearish for stocks." />
      <Callout bx={544} by={261} w={29} h={15} text="Test?" tx={584} ty={293} />
      <Callout bx={528} by={321} w={37} h={15} text="Breach" tx={570} ty={305} />
      <Callout bx={545} by={346} w={34} h={14} text="Target" tx={586} ty={343} />
      <YearLabels yPos={372} />

      {/* ================= RSI ================= */}
      <PanelBg top={376} bottom={490} />
      {rsiFib.map(([v]) => <HLine key={"rf" + v} v={v} y={rsiY} w={1.2} />)}
      <HLine v={70} y={rsiY} stroke="#1a1acc" />
      <HLine v={30} y={rsiY} stroke="#1a1acc" />
      <HLine v={50} y={rsiY} stroke="#1a1acc" dash={DASHDOT} />
      <path d={clipArea(rsi, rsiY, 70)} fill="#000" clipPath="url(#rsiHi)" />
      <path d={clipArea(rsi, rsiY, 30)} fill="#000" clipPath="url(#rsiLo)" />
      <path d={path(rsi, rsiY)} fill="none" stroke="#3333cc" strokeWidth={1} />
      {rsiDiamond.map((p, i) => <DotLine key={"rd" + i} pts={p} y={rsiY} w={2.6} />)}
      <Ticks ticks={rsiTicks} y={rsiY} fmt={fmt0} />
      <FibLabels fib={rsiFib} y={rsiY} size={7} />
      <g>
        <path d="M16,387 L19,380 L21,384 L23,381 L25,387 Z" fill="#1a1a70" />
        <T x={26} y={387} size={10.5}>RSI(13) 52.11</T>
      </g>
      <Callout bx={327} by={421} w={42} h={14} text="Diamond" />
      <Callout bx={546} by={394} w={30} h={14} text="Test?" tx={585} ty={428} />
      <Callout bx={538} by={478} w={38} h={15} text="Support" tx={585} ty={466} />

      {/* ================= MACD ================= */}
      <PanelBg top={492} bottom={603} />
      {macdFib.map(([v]) => <HLine key={"mcf" + v} v={v} y={macdY} w={1.2} />)}
      {macdHist.map(([t, v]) => (
        <rect key={"mh" + t} x={x(t) - 1.5} width={3} y={Math.min(macdY(v), macdY(0))} height={Math.abs(macdY(v) - macdY(0))} fill="#a6a2b8" />
      ))}
      <path d={path(macdSignal, macdY)} fill="none" stroke="#3a3ae0" strokeWidth={1} />
      <path d={path(macd, macdY)} fill="none" stroke="#000" strokeWidth={1.5} />
      <Ticks ticks={macdTicks} y={macdY} fmt={fmt3} />
      <FibLabels fib={macdFib} y={macdY} />
      <Label y={501}>
        <tspan fill="#000">MACD(5,34,5) -0.005,</tspan>
        <tspan fill="#2222dd"> -0.006,</tspan>
        <tspan fill="#999"> 0.001</tspan>
      </Label>
      <Callout bx={352} by={555} w={111} h={15} text="Fib Support / Resistance" />

      {/* ================= ROC ================= */}
      <PanelBg top={605} bottom={720} />
      {rocFib.map(([v]) => <HLine key={"rcf" + v} v={v} y={rocY} w={1.2} />)}
      <HLine v={0} y={rocY} dash={DASHDOT} />
      <path d={path(roc, rocY)} fill="none" stroke="#000" strokeWidth={1.4} />
      {rocDiamond.map((p, i) => <DotLine key={"rcd" + i} pts={p} y={rocY} w={2.6} />)}
      <Ticks ticks={rocTicks} y={rocY} fmt={fmt0} />
      <FibLabels fib={rocFib} y={rocY} />
      <Label y={613}>ROC(13) 3.25%</Label>
      <Callout bx={385} by={657} w={42} h={15} text="Diamond" />
      <Callout bx={516} by={632} w={54} h={15} text="Resistance" tx={580} ty={664} />

      {/* ================= STO 1 ================= */}
      <PanelBg top={722} bottom={836} />
      <HLine v={80} y={sto1Y} stroke="#0b6b0b" />
      <HLine v={20} y={sto1Y} stroke="#0b6b0b" />
      <HLine v={50} y={sto1Y} stroke="#0b6b0b" dash={DASHDOT} />
      <HLine v={100} y={sto1Y} w={2.6} dash="4,2.5" />
      <HLine v={6.3} y={sto1Y} w={2.6} dash="4,2.5" />
      <path d={path(sto1D, sto1Y)} fill="none" stroke="#ff0000" strokeWidth={1} />
      <path d={path(sto1K, sto1Y)} fill="none" stroke="#000" strokeWidth={1.5} />
      {sto1Trend.map((t, i) => <DotLine key={"s1t" + i} pts={t} y={sto1Y} w={1} dash="3,2" color="#333" />)}
      <Ticks ticks={[80, 50, 20]} y={sto1Y} fmt={fmt0} />
      <Label y={734}>
        <tspan>Full STO %K(13,3) %D(5) 50.99,</tspan>
        <tspan fill="#ff0000"> 42.39</tspan>
      </Label>
      <Callout bx={537} by={819} w={39} h={15} text="Support" tx={585} ty={803} />

      {/* ================= STO 2 ================= */}
      <PanelBg top={839} bottom={952} />
      <HLine v={80} y={sto2Y} stroke="#0b6b0b" />
      <HLine v={20} y={sto2Y} stroke="#0b6b0b" />
      <HLine v={50} y={sto2Y} stroke="#0b6b0b" dash={DASHDOT} />
      <HLine v={92.5} y={sto2Y} w={2.6} dash="4,2.5" />
      <HLine v={7.9} y={sto2Y} w={2.6} dash="4,2.5" />
      <path d={path(sto2D, sto2Y, d3.curveMonotoneX)} fill="none" stroke="#ff0000" strokeWidth={1} />
      <path d={path(sto2K, sto2Y)} fill="none" stroke="#000" strokeWidth={1.5} />
      {sto2Trend.map((t, i) => <DotLine key={"s2t" + i} pts={t} y={sto2Y} w={1} dash="3,2" color="#333" />)}
      <Ticks ticks={[80, 50, 20]} y={sto2Y} fmt={fmt0} />
      <Label y={850}>
        <tspan>Full STO %K(21,8) %D(13) 47.74,</tspan>
        <tspan fill="#ff0000"> 48.33</tspan>
      </Label>
      <Callout bx={375} by={918} w={197} h={15} text="Stochastics are bearishly predispositioned." tx={582} ty={905} />

      {/* ================= STO 3 ================= */}
      <PanelBg top={955} bottom={1068} />
      <HLine v={80} y={sto3Y} stroke="#0b6b0b" />
      <HLine v={20} y={sto3Y} stroke="#0b6b0b" />
      <HLine v={50} y={sto3Y} stroke="#0b6b0b" dash={DASHDOT} />
      <HLine v={89} y={sto3Y} w={2.6} dash="4,2.5" />
      <HLine v={5.4} y={sto3Y} w={2.6} dash="4,2.5" />
      <path d={path(sto3D, sto3Y, d3.curveMonotoneX)} fill="none" stroke="#ff0000" strokeWidth={1} />
      <path d={path(sto3K, sto3Y, d3.curveMonotoneX)} fill="none" stroke="#000" strokeWidth={1.5} />
      {sto3Trend.map((t, i) => <DotLine key={"s3t" + i} pts={t} y={sto3Y} w={1} dash="3,2" color="#333" />)}
      <Ticks ticks={[80, 50, 20]} y={sto3Y} fmt={fmt0} />
      <Label y={966}>
        <tspan>Full STO %K(34,13) %D(21) 45.45,</tspan>
        <tspan fill="#ff0000"> 47.97</tspan>
      </Label>

      {/* ================= BB width ================= */}
      <PanelBg top={1070} bottom={1182} />
      {bbLines.map((v) => <HLine key={"bb" + v} v={v} y={bbY} w={1.2} />)}
      <path d={path(bbWidth, bbY)} fill="none" stroke="#000" strokeWidth={1.5} />
      <Ticks ticks={bbTicks} y={bbY} fmt={fmt2} />
      <FibLabels fib={bbFib} y={bbY} />
      <Label y={1083}>BB(21,2.1) Width 0.035</Label>
      <Callout bx={456} by={1137} w={116} h={15} text="Tight coil ready to spring." tx={584} ty={1166} />

      {/* ================= ADX ================= */}
      <PanelBg top={1184} bottom={1296} />
      {adxFib.map(([v]) => <HLine key={"af" + v} v={v} y={adxY} stroke="#0b6b0b" w={1.2} />)}
      <path d={path(plusDI, adxY)} fill="none" stroke="#2f6a2f" strokeWidth={0.9} />
      <path d={path(minusDI, adxY)} fill="none" stroke="#ff0000" strokeWidth={0.9} />
      <path d={path(adx, adxY)} fill="none" stroke="#000" strokeWidth={1.5} />
      <Ticks ticks={adxTicks} y={adxY} fmt={fmt0} />
      <FibLabels fib={adxFib} y={adxY} />
      <Label y={1197}>
        <tspan>ADX(13) 14.62</tspan>
        <tspan fill="#2f6a2f"> +DI 22.37</tspan>
        <tspan fill="#ff0000"> -DI 10.06</tspan>
      </Label>

      {/* ================= StochRSI ================= */}
      <PanelBg top={1299} bottom={1414} />
      <HLine v={0.8} y={srsiY} stroke="#5a1060" />
      <HLine v={0.2} y={srsiY} stroke="#5a1060" />
      <HLine v={0.5} y={srsiY} stroke="#5a1060" dash={DASHDOT} />
      <path d={clipArea(stochRsi, srsiY, 0.8)} fill="#8f86d4" clipPath="url(#srHi)" />
      <path d={clipArea(stochRsi, srsiY, 0.2)} fill="#8f86d4" clipPath="url(#srLo)" />
      <path d={path(stochRsi, srsiY)} fill="none" stroke="#6a2a8a" strokeWidth={1} />
      <Ticks ticks={srsiTicks} y={srsiY} fmt={fmt1} />
      <g>
        <path d="M16,1311 L19,1304 L21,1308 L23,1305 L25,1311 Z" fill="#8f86d4" stroke="#5a1060" strokeWidth={0.6} />
        <T x={26} y={1311} size={10.5}>StochRSI(13) 0.711</T>
      </g>

      {/* ================= AROON ================= */}
      <PanelBg top={1417} bottom={1531} />
      <HLine v={70} y={aroonY} stroke="#0b6b0b" />
      <HLine v={30} y={aroonY} stroke="#0b6b0b" />
      <HLine v={50} y={aroonY} stroke="#0b6b0b" dash={DASHDOT} />
      <path d={path(aroonDown, aroonY)} fill="none" stroke="#d0102a" strokeWidth={1.2} />
      <path d={path(aroonUp, aroonY)} fill="none" stroke="#1f6a2f" strokeWidth={1.2} />
      <Ticks ticks={aroonTicks} y={aroonY} fmt={fmt0} />
      <Label y={1428} dash="#1f6a2f">
        <tspan fill="#000">AROON(21)</tspan>
        <tspan fill="#1f6a2f"> Up 100.0</tspan>
        <tspan fill="#d0102a"> Down 85.7</tspan>
      </Label>
      <YearLabels yPos={1546} />
    </svg>
  );
}
